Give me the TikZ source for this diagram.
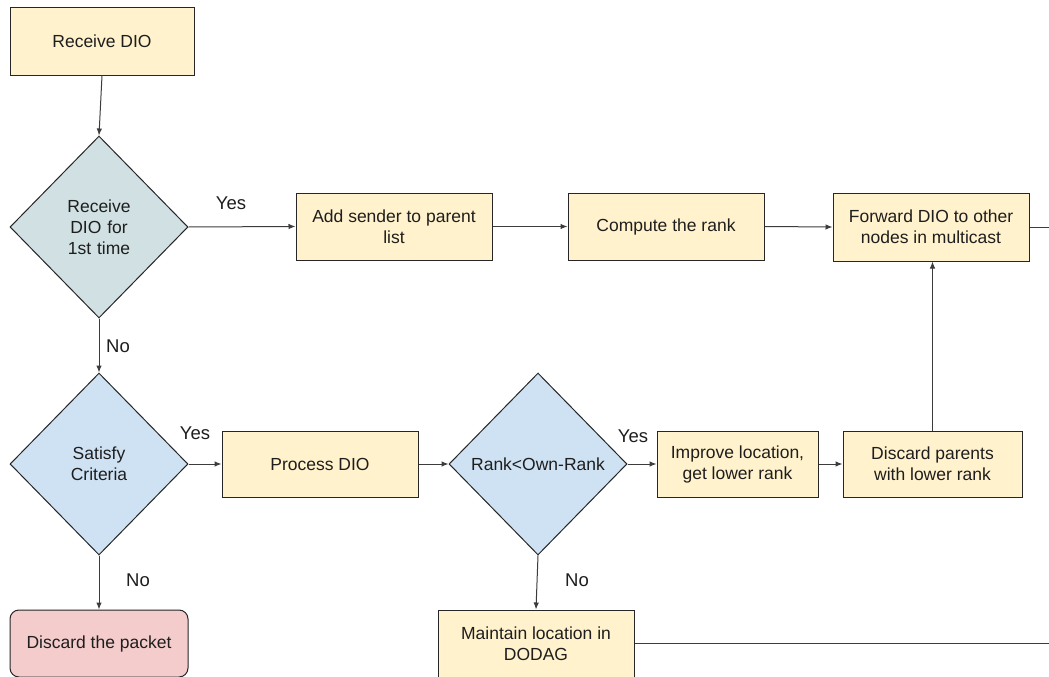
\documentclass[tikz,border=0pt]{standalone}
\usepackage{fontspec}
\setmainfont{Liberation Sans}
\usetikzlibrary{shapes.geometric,arrows.meta}

\definecolor{boxfill}{RGB}{255,242,204}
\definecolor{greyblue}{RGB}{208,224,227}
\definecolor{lightblue}{RGB}{207,226,243}
\definecolor{lightred}{RGB}{244,204,204}
\definecolor{edgegrey}{RGB}{60,60,60}
\definecolor{txt}{RGB}{30,30,30}

\tikzset{
  stepbox/.style={draw=black!85, fill=boxfill, line width=1pt, inner sep=2pt,
    text=txt, align=center, font=\fontsize{17.5}{21}\selectfont},
  decision/.style={diamond, draw=black!85, line width=1pt, inner sep=0pt,
    text=txt, align=center, font=\fontsize{17.5}{21}\selectfont,
    minimum width=178pt, minimum height=182pt},
  endbox/.style={stepbox, fill=lightred, rounded corners=9pt},
  flow/.style={draw=edgegrey, line width=1pt, -{Latex[length=7pt,width=5.5pt]}},
  plain/.style={draw=edgegrey, line width=1pt},
  answer/.style={text=txt, font=\fontsize{18.5}{22}\selectfont, inner sep=0pt}
}

\begin{document}
\begin{tikzpicture}[x=1pt,y=-1pt]
\useasboundingbox (0,0) rectangle (1049,677);
\clip (0,0) rectangle (1049,677);
\fill[white] (0,0) rectangle (1049,677);

% top row
\node[stepbox, minimum width=184pt, minimum height=67pt] (rd) at (102,41.5) {Receive DIO};
\node[decision, fill=greyblue, text width=80pt] (d1) at (99,227) {Receive\\DIO for\\1st time};
\node[stepbox, minimum width=196pt, minimum height=67pt] (add) at (394,226.5) {Add sender to parent\\list};
\node[stepbox, minimum width=196pt, minimum height=67pt] (comp) at (666,226.5) {Compute the rank};
\node[stepbox, minimum width=196pt, minimum height=68pt] (fwd) at (931,227) {Forward DIO to other\\nodes in multicast};

% middle row
\node[decision, fill=lightblue, text width=80pt] (d2) at (99,464) {Satisfy\\Criteria};
\node[stepbox, minimum width=196pt, minimum height=66pt] (proc) at (320,464) {Process DIO};
\node[decision, fill=lightblue] (d3) at (538,464) {Rank<Own-Rank};
\node[stepbox, minimum width=161pt, minimum height=66pt] (imp) at (737.5,464) {Improve location,\\get lower rank};
\node[stepbox, minimum width=179pt, minimum height=66pt] (dp) at (932.5,464) {Discard parents\\with lower rank};

% bottom row
\node[endbox, minimum width=178pt, minimum height=67pt] (disc) at (99,643.5) {Discard the packet};
\node[stepbox, minimum width=196pt, minimum height=67pt] (maint) at (536,643.5) {Maintain location in\\DODAG};

% free ends at the right edge
\coordinate (fwdout) at (1049,227);
\coordinate (maintout) at (1049,643.5);

% connectors
\draw[flow] (rd.south) -- (d1.north);
\draw[flow] (d1.east) -- (add.west);
\draw[flow] (add.east) -- (comp.west);
\draw[flow] (comp.east) -- (fwd.west);
\draw[plain] (fwd.east) -- (fwdout);
\draw[flow] (d1.south) -- (d2.north);
\draw[flow] (d2.east) -- (proc.west);
\draw[flow] (proc.east) -- (d3.west);
\draw[flow] (d3.east) -- (imp.west);
\draw[flow] (imp.east) -- (dp.west);
\draw[flow] (dp.north) -- (dp.north |- fwd.south);
\draw[flow] (d2.south) -- (disc.north);
\draw[flow] (d3.south) -- (maint.north);
\draw[plain] (maint.east) -- (maintout);

% branch labels
\node[answer] (y1) at (231,203) {Yes};
\node[answer] (n1) at (118,346) {No};
\node[answer] (y2) at (195,433) {Yes};
\node[answer] (y3) at (633,436) {Yes};
\node[answer] (n2) at (138,580) {No};
\node[answer] (n3) at (577,580) {No};
\end{tikzpicture}
\end{document}
